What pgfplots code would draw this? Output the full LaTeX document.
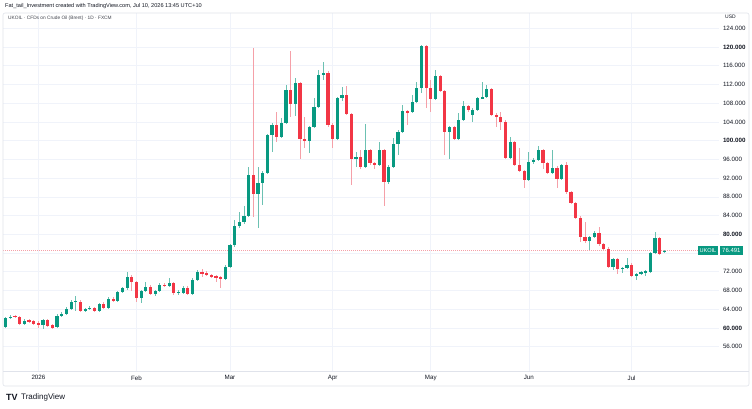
\documentclass[border=0pt]{standalone}
\usepackage{pgfplots}
\pgfplotsset{compat=1.18}
\usepackage{pgfplotstable}
\usepackage{fontspec}
\setmainfont{Liberation Sans}
\definecolor{upc}{HTML}{089981}
\definecolor{dnc}{HTML}{F23645}
\definecolor{upw}{HTML}{6CC1B2}
\definecolor{dnw}{HTML}{F5A0A8}
\definecolor{gridc}{HTML}{F0F3FA}
\definecolor{framec}{HTML}{E0E3EB}
\definecolor{txt}{HTML}{131722}
\pgfplotstableread{
k O H L C
1 60.2 62.4 59.9 62.1
2 62.1 62.7 61.8 62.4
3 62.6 62.8 62.2 62.4
4 62.3 62.5 60.7 60.9
5 60.9 61.8 60.6 61.5
6 61.7 61.9 61.1 61.3
7 61.5 61.7 60.7 60.9
8 61.1 61.4 60.0 60.6
9 60.6 61.9 59.8 61.7
10 61.7 62.0 60.2 60.4
11 60.6 60.9 59.7 60.0
12 60.2 62.9 60.0 62.6
13 62.6 63.3 62.3 63.0
14 63.0 64.4 62.8 64.1
15 64.1 66.0 63.8 65.5
16 65.5 66.8 63.6 65.8
17 65.6 65.9 63.3 63.6
18 63.8 64.3 63.4 64.0
19 64.1 64.6 63.8 64.3
20 64.2 64.5 63.3 63.7
21 63.7 65.4 63.5 65.1
22 65.1 65.5 64.0 64.3
23 64.3 66.5 64.0 66.2
24 66.2 66.6 65.5 65.8
25 65.8 67.9 65.5 67.7
26 67.7 68.8 67.4 68.5
27 68.5 72.0 68.2 70.9
28 70.9 71.3 67.8 69.9
29 69.8 70.1 65.6 66.4
30 66.4 68.2 65.3 67.9
31 67.9 69.8 67.6 68.8
32 68.8 69.1 67.0 67.3
33 67.3 68.2 66.8 67.9
34 67.9 69.5 67.6 69.2
35 69.2 69.5 68.8 69.0
36 69.0 70.7 68.8 69.6
37 69.6 69.9 67.0 67.5
38 67.5 68.0 67.0 67.7
39 67.5 68.9 67.2 68.6
40 68.6 68.9 67.0 67.3
41 67.3 70.6 67.1 70.3
42 70.3 72.3 70.0 72.0
43 71.9 72.6 70.9 71.7
44 71.7 72.1 71.0 71.3
45 71.3 71.6 70.7 71.0
46 71.0 71.3 69.9 70.7
47 70.8 71.1 68.6 70.5
48 70.5 73.4 70.2 73.1
49 73.1 78.0 72.8 77.7
50 77.7 83.1 77.3 81.8
51 81.8 84.8 81.4 82.7
52 82.7 86.1 82.3 83.9
53 83.9 94.4 83.6 92.7
54 92.7 119.8 83.7 88.6
55 88.6 94.4 81.4 91.0
56 91.0 93.6 86.3 93.1
57 93.1 101.5 92.8 101.2
58 101.2 103.7 97.6 103.4
59 103.4 106.1 99.7 100.8
60 100.8 104.8 100.5 103.8
61 103.8 111.9 103.5 110.8
62 110.8 119.1 105.1 107.8
63 107.8 113.4 105.3 112.3
64 112.3 112.6 96.1 100.4
65 100.4 105.1 98.4 100.0
66 100.0 103.2 97.4 102.9
67 102.9 109.1 102.6 107.2
68 107.2 115.1 106.9 114.0
69 114.0 116.8 113.0 114.5
70 114.5 114.8 103.0 103.4
71 103.4 103.7 98.4 100.4
72 100.4 109.4 100.1 109.1
73 109.1 111.5 108.5 109.8
74 109.8 111.7 105.4 105.7
75 105.7 106.0 90.5 96.1
76 96.1 97.6 94.4 96.5
77 96.5 98.0 93.9 94.4
78 94.4 103.6 94.1 98.0
79 98.0 98.3 94.8 95.2
80 95.2 95.5 94.0 94.8
81 94.8 99.7 94.5 98.0
82 98.0 98.3 86.1 91.2
83 91.2 94.7 90.8 94.4
84 94.4 100.5 94.1 99.3
85 99.3 102.2 96.9 101.9
86 101.9 107.6 101.6 106.3
87 106.3 106.6 103.4 106.1
88 106.1 109.8 105.8 108.3
89 108.3 112.5 108.0 111.3
90 111.3 120.4 110.2 120.2
91 120.2 120.4 107.0 111.3
92 111.3 113.0 106.1 108.9
93 108.9 115.1 108.6 113.8
94 113.8 114.1 110.3 110.6
95 110.6 110.9 96.9 101.9
96 101.9 103.2 96.1 102.9
97 102.9 103.2 100.1 100.4
98 100.4 105.9 100.1 104.4
99 104.4 108.5 104.1 107.4
100 107.4 107.7 106.2 106.5
101 105.5 106.9 104.0 106.6
102 106.6 109.4 106.3 109.1
103 109.1 112.5 108.8 109.3
104 109.3 111.9 109.0 111.0
105 111.0 111.3 105.2 105.5
106 105.5 105.8 102.9 105.1
107 105.1 106.1 102.3 104.0
108 104.0 104.3 96.0 96.3
109 96.3 100.8 96.0 99.7
110 99.7 100.0 94.5 94.8
111 94.8 98.4 93.2 93.5
112 93.5 93.8 89.9 91.6
113 91.6 97.6 91.3 95.4
114 95.4 96.2 95.1 95.9
115 95.9 98.9 95.6 98.0
116 98.0 98.3 94.0 95.2
117 95.2 95.5 92.8 93.1
118 93.1 98.0 92.8 94.2
119 94.2 94.5 89.9 91.8
120 91.8 95.1 91.5 94.8
121 94.8 95.4 88.7 89.0
122 89.0 89.3 86.4 86.7
123 86.7 87.0 83.2 83.5
124 83.5 83.8 78.4 79.4
125 79.4 82.7 78.2 78.6
126 78.6 79.7 76.7 79.4
127 79.4 80.7 79.1 80.3
128 80.3 81.6 77.6 77.9
129 77.9 78.2 76.5 76.9
130 76.9 77.2 72.7 73.0
131 73.0 75.0 72.4 74.7
132 74.7 75.0 71.5 72.6
133 72.6 73.0 71.8 72.8
134 72.8 74.9 72.5 73.5
135 73.5 73.8 70.8 71.1
136 71.1 71.8 70.2 71.5
137 71.5 72.2 71.2 71.9
138 71.9 72.4 71.1 72.0
139 72.0 76.3 71.7 76.0
140 76.0 80.5 75.7 79.2
141 79.2 79.5 75.5 75.8
142 76.2 76.7 76.0 76.491
}\candles
\begin{document}
\begin{tikzpicture}[x=1pt,y=1pt]
\useasboundingbox (0,0) rectangle (752,409);
\fill[white] (0,0) rectangle (752,409);
\node[anchor=west, inner sep=0, text=txt, font=\fontsize{5.6}{6}\selectfont] at (5,402.5) {Fat\_tail\_Investment created with TradingView.com, Jul 10, 2026 13:45 UTC+10};
\begin{axis}[
  anchor=south west, at={(3pt,38pt)},
  width=716pt, height=358pt, scale only axis,
  xmin=0.42, xmax=153.7, ymin=50.8, ymax=127.26,
  xtick={8,29,49,71,92,113,135},
  xticklabels={2026,Feb,Mar,Apr,May,Jun,Jul},
  ytick={56,60,...,124},
  yticklabels={56.000,\textbf{60.000},64.000,68.000,72.000,{},\textbf{80.000},84.000,88.000,92.000,96.000,\textbf{100.000},104.000,108.000,112.000,116.000,\textbf{120.000},124.000},
  yticklabel pos=right,
  major tick length=0pt,
  xmajorgrids, ymajorgrids,
  grid style={gridc, line width=0.6pt},
  axis line style={draw=none},
  tick label style={font=\fontsize{6.2}{7}\selectfont, text=txt},
  xticklabel style={yshift=-1pt},
  yticklabel style={anchor=west, xshift=0.5pt},
]
\addplot [dnw, line width=0.5pt, dash pattern=on 1pt off 1pt, forget plot] coordinates {(0.42,76.491) (153.7,76.491)};
% wicks
\addplot [draw=none, mark=none, forget plot,
  x filter/.expression={\thisrow{C}>=\thisrow{O} ? x : nan},
  error bars/.cd, y dir=both, y explicit, error mark=none,
  error bar style={line width=0.8pt, draw=upw}]
  table [x=k, y expr={(\thisrow{H}+\thisrow{L})/2}, y error expr={(\thisrow{H}-\thisrow{L})/2}] {\candles};
\addplot [draw=none, mark=none, forget plot,
  x filter/.expression={\thisrow{C}<\thisrow{O} ? x : nan},
  error bars/.cd, y dir=both, y explicit, error mark=none,
  error bar style={line width=0.8pt, draw=dnw}]
  table [x=k, y expr={(\thisrow{H}+\thisrow{L})/2}, y error expr={(\thisrow{H}-\thisrow{L})/2}] {\candles};
% bodies
\addplot [draw=none, mark=none, forget plot,
  x filter/.expression={\thisrow{C}>=\thisrow{O} ? x : nan},
  error bars/.cd, y dir=both, y explicit, error mark=none,
  error bar style={line width=3.2pt, draw=upc}]
  table [x=k, y expr={(\thisrow{O}+\thisrow{C})/2}, y error expr={max(abs(\thisrow{C}-\thisrow{O})/2,0.13)}] {\candles};
\addplot [draw=none, mark=none, forget plot,
  x filter/.expression={\thisrow{C}<\thisrow{O} ? x : nan},
  error bars/.cd, y dir=both, y explicit, error mark=none,
  error bar style={line width=3.2pt, draw=dnc}]
  table [x=k, y expr={(\thisrow{O}+\thisrow{C})/2}, y error expr={max(abs(\thisrow{C}-\thisrow{O})/2,0.13)}] {\candles};
\coordinate (pl) at (axis cs:153.7,76.491);
\end{axis}
\draw[framec, rounded corners=2pt, line width=0.6pt] (3,23) rectangle (749,396);
\draw[framec, line width=0.6pt] (3,38) -- (749,38);
\node[anchor=west, inner sep=0, text=txt!80, font=\fontsize{4.8}{5}\selectfont] at (8,390.5) {UKOIL · CFDs on Crude Oil (Brent) · 1D · FXCM};
\node[anchor=west, inner sep=0, text=txt, font=\fontsize{5}{5}\selectfont] at (725,392) {USD};
\node[anchor=east, fill=upc, text=white, inner xsep=2pt, inner ysep=0pt, minimum height=9pt, font=\fontsize{5.6}{6}\selectfont] at ([xshift=-0.5pt]pl) {UKOIL};
\node[anchor=west, fill=upc, text=white, inner xsep=2pt, inner ysep=0pt, minimum height=9pt, font=\fontsize{6}{6}\selectfont] at ([xshift=1pt]pl) {76.491};
\node[anchor=west, inner sep=0, text=txt, font=\fontsize{9}{9}\bfseries\selectfont] at (6,12) {TV};
\node[anchor=west, inner sep=0, text=txt, font=\fontsize{8}{8}\selectfont] at (21,12) {TradingView};
\end{tikzpicture}
\end{document}
